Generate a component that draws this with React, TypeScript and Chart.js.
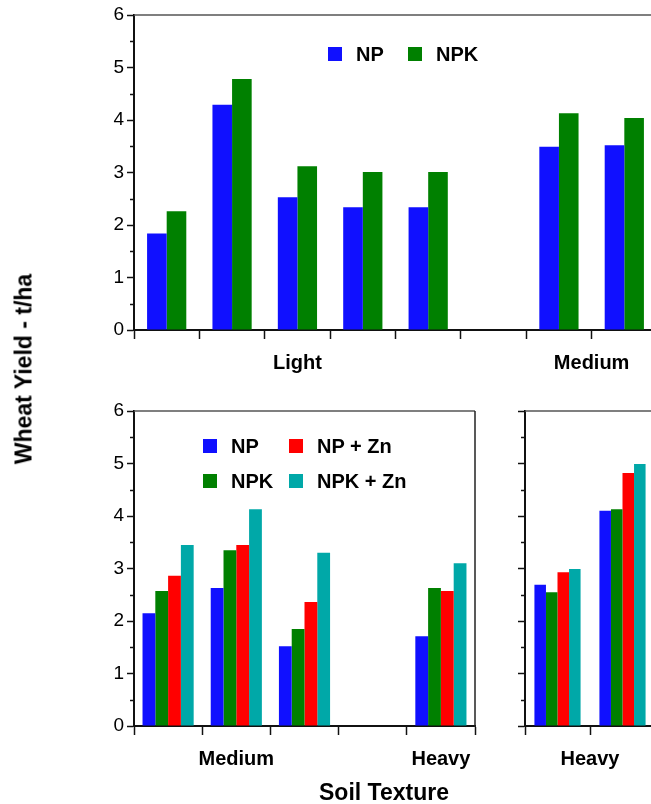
import React, { useEffect, useRef } from 'react';
import { Chart, registerables } from 'chart.js';

Chart.register(...registerables);

const FONT = '"Liberation Sans", Arial, Helvetica, sans-serif';

// Series colours
const COLOR_NP = '#1010FF';
const COLOR_NPK = '#008000';
const COLOR_NPZN = '#FF0000';
const COLOR_NPKZN = '#00A8A8';

// Y axis (t/ha)
const yMajorTicks = [0, 1, 2, 3, 4, 5, 6];

// ---- Top panel (NP vs NPK) ----
const topCategories = ['Light 1', 'Light 2', 'Light 3', 'Light 4', 'Light 5', '', 'Medium 1', 'Medium 2'];
const topNP = [1.84, 4.29, 2.53, 2.34, 2.34, null, 3.49, 3.52];
const topNPK = [2.26, 4.78, 3.12, 3.01, 3.01, null, 4.13, 4.04];
const topGroups = [
  { label: 'Light', from: 0, to: 4 },
  { label: 'Medium', from: 6, to: 7 },
];

// ---- Bottom-left panel (with Zn) ----
const blCategories = ['Medium 1', 'Medium 2', 'Medium 3', '', 'Heavy 1'];
const blNP = [2.15, 2.63, 1.52, null, 1.71];
const blNPK = [2.57, 3.35, 1.85, null, 2.63];
const blNPZn = [2.86, 3.45, 2.36, null, 2.57];
const blNPKZn = [3.45, 4.13, 3.3, null, 3.1];
const blGroups = [
  { label: 'Medium', from: 0, to: 2 },
  { label: 'Heavy', from: 4, to: 4 },
];

// ---- Bottom-right panel (with Zn) ----
const brCategories = ['Heavy 2', 'Heavy 3'];
const brNP = [2.69, 4.1];
const brNPK = [2.55, 4.13];
const brNPZn = [2.93, 4.82];
const brNPKZn = [2.99, 4.99];
const brGroups = [{ label: 'Heavy', from: 0, to: 1 }];

const yTitle = 'Wheat Yield - t/ha';
const xTitle = 'Soil Texture';

const panelDecor = {
  id: 'panelDecor',
  afterDraw(chart: any, _args: any, opts: any) {
    const { ctx, chartArea: ca, scales } = chart;
    const x = scales.x;
    const y = scales.y;
    const line = (x1: number, y1: number, x2: number, y2: number) => {
      ctx.beginPath();
      ctx.moveTo(x1, y1);
      ctx.lineTo(x2, y2);
      ctx.stroke();
    };
    ctx.save();
    // minor ticks half way between the major ones
    ctx.strokeStyle = '#111';
    ctx.lineWidth = 1.5;
    for (let i = 0; i < yMajorTicks.length - 1; i++) {
      const v = (yMajorTicks[i] + yMajorTicks[i + 1]) / 2;
      const py = Math.round(y.getPixelForValue(v)) + 0.5;
      line(ca.left - 4, py, ca.left, py);
    }
    // frame
    ctx.strokeStyle = '#555';
    ctx.lineWidth = 1.5;
    line(ca.left, ca.top, ca.right, ca.top);
    if (opts.rightBorder) {
      ctx.strokeStyle = '#222';
      line(ca.right, ca.top, ca.right, ca.bottom + 1);
    }
    // group labels below the axis
    ctx.font = `bold 20px ${FONT}`;
    ctx.fillStyle = '#000';
    ctx.textAlign = 'center';
    ctx.textBaseline = 'alphabetic';
    for (const g of opts.groups || []) {
      const px = x.getPixelForValue((g.from + g.to) / 2);
      ctx.fillText(g.label, px, ca.bottom + 39);
    }
    ctx.restore();
  },
};

type PanelProps = {
  left: number;
  top: number;
  width: number;
  height: number;
  categories: string[];
  datasets: { label: string; data: (number | null)[]; color: string }[];
  groups: { label: string; from: number; to: number }[];
  padding: { top: number; right: number; bottom: number; left: number };
  yAxisWidth: number;
  showYLabels: boolean;
  categoryPercentage: number;
  rightBorder?: boolean;
};

function Panel(p: PanelProps) {
  const ref = useRef<HTMLCanvasElement | null>(null);
  useEffect(() => {
    if (!ref.current) return;
    const chart = new Chart(ref.current, {
      type: 'bar',
      data: {
        labels: p.categories,
        datasets: p.datasets.map((d) => ({
          label: d.label,
          data: d.data,
          backgroundColor: d.color,
          borderWidth: 0,
          categoryPercentage: p.categoryPercentage,
          barPercentage: 1,
        })),
      },
      options: {
        responsive: false,
        animation: false,
        devicePixelRatio: 1,
        layout: { padding: p.padding },
        plugins: {
          legend: { display: false },
          tooltip: { enabled: false },
          // @ts-ignore
          panelDecor: { groups: p.groups, rightBorder: !!p.rightBorder },
        },
        scales: {
          x: {
            type: 'category',
            offset: true,
            grid: {
              offset: true,
              drawOnChartArea: false,
              drawTicks: true,
              tickLength: 9,
              tickColor: '#111',
              tickWidth: 1.5,
            },
            border: { color: '#111', width: 2 },
            ticks: { display: false },
            afterFit: (s: any) => {
              s.height = 15;
            },
          },
          y: {
            min: yMajorTicks[0],
            max: yMajorTicks[yMajorTicks.length - 1],
            grid: {
              drawOnChartArea: false,
              drawTicks: true,
              tickLength: 7,
              tickColor: '#111',
              tickWidth: 1.5,
            },
            border: { color: '#111', width: 2 },
            ticks: {
              display: p.showYLabels,
              stepSize: 1,
              padding: 3,
              color: '#000',
              font: { family: FONT, size: 19 },
            },
            afterFit: (s: any) => {
              s.width = p.yAxisWidth;
            },
          },
        },
      } as any,
      plugins: [panelDecor as any],
    });
    return () => chart.destroy();
  }, []);
  return (
    <canvas
      ref={ref}
      width={p.width}
      height={p.height}
      style={{ position: 'absolute', left: p.left, top: p.top, width: p.width, height: p.height }}
    />
  );
}

type LegendItem = { label: string; color: string; x: number; cy: number };

function Legend({ items }: { items: LegendItem[] }) {
  return (
    <>
      {items.map((it) => (
        <div
          key={it.label + it.x + it.cy}
          style={{
            position: 'absolute',
            left: it.x,
            top: it.cy - 12,
            height: 24,
            display: 'flex',
            alignItems: 'center',
            font: `bold 20px ${FONT}`,
            lineHeight: '24px',
            color: '#000',
            whiteSpace: 'nowrap',
          }}
        >
          <span
            style={{ display: 'inline-block', width: 14, height: 14, background: it.color, marginRight: 14 }}
          />
          {it.label}
        </div>
      ))}
    </>
  );
}

export default function App() {
  const topLegend: LegendItem[] = [
    { label: 'NP', color: COLOR_NP, x: 328, cy: 54 },
    { label: 'NPK', color: COLOR_NPK, x: 408, cy: 54 },
  ];
  const bottomLegend: LegendItem[] = [
    { label: 'NP', color: COLOR_NP, x: 203, cy: 446 },
    { label: 'NP + Zn', color: COLOR_NPZN, x: 289, cy: 446 },
    { label: 'NPK', color: COLOR_NPK, x: 203, cy: 481 },
    { label: 'NPK + Zn', color: COLOR_NPKZN, x: 289, cy: 481 },
  ];
  return (
    <div
      style={{
        position: 'fixed',
        left: 0,
        top: 0,
        width: 651,
        height: 804,
        overflow: 'hidden',
        background: '#fff',
        fontFamily: FONT,
      }}
    >
      <Panel
        left={0}
        top={0}
        width={670}
        height={390}
        categories={topCategories}
        datasets={[
          { label: 'NP', data: topNP, color: COLOR_NP },
          { label: 'NPK', data: topNPK, color: COLOR_NPK },
        ]}
        groups={topGroups}
        padding={{ top: 15, right: 13, bottom: 45, left: 0 }}
        yAxisWidth={134}
        showYLabels={true}
        categoryPercentage={0.6}
      />
      <Panel
        left={0}
        top={395}
        width={482}
        height={400}
        categories={blCategories}
        datasets={[
          { label: 'NP', data: blNP, color: COLOR_NP },
          { label: 'NPK', data: blNPK, color: COLOR_NPK },
          { label: 'NP + Zn', data: blNPZn, color: COLOR_NPZN },
          { label: 'NPK + Zn', data: blNPKZn, color: COLOR_NPKZN },
        ]}
        groups={blGroups}
        padding={{ top: 16, right: 7, bottom: 54, left: 0 }}
        yAxisWidth={134}
        showYLabels={true}
        categoryPercentage={0.75}
        rightBorder={true}
      />
      <Panel
        left={500}
        top={395}
        width={170}
        height={400}
        categories={brCategories}
        datasets={[
          { label: 'NP', data: brNP, color: COLOR_NP },
          { label: 'NPK', data: brNPK, color: COLOR_NPK },
          { label: 'NP + Zn', data: brNPZn, color: COLOR_NPZN },
          { label: 'NPK + Zn', data: brNPKZn, color: COLOR_NPKZN },
        ]}
        groups={brGroups}
        padding={{ top: 16, right: 15, bottom: 54, left: 0 }}
        yAxisWidth={25}
        showYLabels={false}
        categoryPercentage={0.71}
      />
      <Legend items={topLegend} />
      <Legend items={bottomLegend} />
      <div
        style={{
          position: 'absolute',
          left: 24,
          top: 369,
          transform: 'translate(-50%, -50%) rotate(-90deg)',
          font: `bold 23px ${FONT}`,
          lineHeight: '23px',
          whiteSpace: 'nowrap',
          color: '#000',
        }}
      >
        {yTitle}
      </div>
      <div
        style={{
          position: 'absolute',
          left: 384,
          top: 781,
          transform: 'translateX(-50%)',
          font: `bold 23px ${FONT}`,
          lineHeight: '23px',
          whiteSpace: 'nowrap',
          color: '#000',
        }}
      >
        {xTitle}
      </div>
    </div>
  );
}
